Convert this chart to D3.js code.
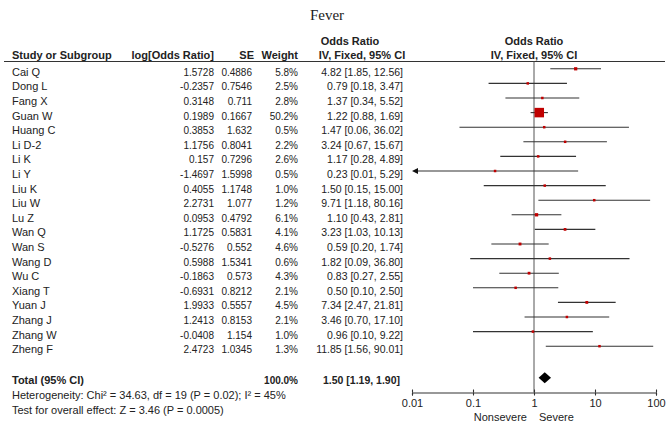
<!DOCTYPE html>
<html>
<head>
<meta charset="utf-8">
<script src="https://cdn.jsdelivr.net/npm/d3@7"></script>
<style>
  body { margin: 0; background: #fff; }
  text { font-family: "Liberation Sans", Arial, sans-serif; font-size: 11px; fill: #222; }
  text.num { font-size: 10px; }
  text.ci { font-size: 10.5px; }
</style>
</head>
<body>
<div id="field"></div>
<script>
'use strict';

let studies = ['Cai Q', 'Dong L', 'Fang X', 'Guan W', 'Huang C', 'Li D-2', 'Li K', 'Li Y', 'Liu K', 'Liu W',
               'Lu Z', 'Wan Q', 'Wan S', 'Wang D', 'Wu C', 'Xiang T', 'Yuan J', 'Zhang J', 'Zhang W', 'Zheng F'];
let logOR = ['1.5728', '-0.2357', '0.3148', '0.1989', '0.3853', '1.1756', '0.157', '-1.4697', '0.4055', '2.2731',
             '0.0953', '1.1725', '-0.5276', '0.5988', '-0.1863', '-0.6931', '1.9933', '1.2413', '-0.0408', '2.4723'];
let se = ['0.4886', '0.7546', '0.711', '0.1667', '1.632', '0.8041', '0.7296', '1.5998', '1.1748', '1.077',
          '0.4792', '0.5831', '0.552', '1.5341', '0.573', '0.8212', '0.5557', '0.8153', '1.154', '1.0345'];
let weight = [5.8, 2.5, 2.8, 50.2, 0.5, 2.2, 2.6, 0.5, 1.0, 1.2, 6.1, 4.1, 4.6, 0.6, 4.3, 2.1, 4.5, 2.1, 1.0, 1.3];
let or = [4.82, 0.79, 1.37, 1.22, 1.47, 3.24, 1.17, 0.23, 1.50, 9.71, 1.10, 3.23, 0.59, 1.82, 0.83, 0.50, 7.34, 3.46, 0.96, 11.85];
let lower = [1.85, 0.18, 0.34, 0.88, 0.06, 0.67, 0.28, 0.01, 0.15, 1.18, 0.43, 1.03, 0.20, 0.09, 0.27, 0.10, 2.47, 0.70, 0.10, 1.56];
let upper = [12.56, 3.47, 5.52, 1.69, 36.02, 15.67, 4.89, 5.29, 15.00, 80.16, 2.81, 10.13, 1.74, 36.80, 2.55, 2.50, 21.81, 17.10, 9.22, 90.01];
let total = { weight: '100.0%', or: 1.50, lower: 1.19, upper: 1.90 };
let axisTicks = [0.01, 0.1, 1, 10, 100];
let heterogeneity = 'Heterogeneity: Chi\u00b2 = 34.63, df = 19 (P = 0.02); I\u00b2 = 45%';
let overall = 'Test for overall effect: Z = 3.46 (P = 0.0005)';

function ForestPlot(setting) {
  let w = setting.w,
      h = setting.h,
      rows = studies.map(function(s, i){
        return { name: s, logOR: logOR[i], se: se[i], weight: weight[i], or: or[i], lo: lower[i], hi: upper[i] };
      }),
      x = d3.scaleLog().domain([0.01, 100]).range([412, 656]),
      y = d3.scalePoint().domain(studies).range([68.8, 68.8 + 14.6 * 19]),
      size = d3.scaleSqrt().domain([0, 50.2]).range([0, 9.5]),
      svg = d3.select('#field').append('svg').attr('width', w).attr('height', h),
      fmt = d3.format('.2f');

  svg.append('text').text('Fever').attr('x', 327).attr('y', 20).attr('text-anchor', 'middle')
    .style('font-family', '"Liberation Serif", "Times New Roman", serif').style('font-size', '15px');

  // headers
  let head = svg.append('g').style('font-weight', 'bold');
  head.append('text').text('Odds Ratio').attr('x', 350).attr('y', 45).attr('text-anchor', 'middle');
  head.append('text').text('Odds Ratio').attr('x', 534).attr('y', 45).attr('text-anchor', 'middle');
  head.append('text').text('Study or Subgroup').attr('x', 12).attr('y', 59);
  head.append('text').text('log[Odds Ratio]').attr('x', 214).attr('y', 59).attr('text-anchor', 'end');
  head.append('text').text('SE').attr('x', 254).attr('y', 59).attr('text-anchor', 'end');
  head.append('text').text('Weight').attr('x', 298).attr('y', 59).attr('text-anchor', 'end');
  head.append('text').text('IV, Fixed, 95% CI').attr('x', 362).attr('y', 59).attr('text-anchor', 'middle');
  head.append('text').text('IV, Fixed, 95% CI').attr('x', 534).attr('y', 59).attr('text-anchor', 'middle');
  svg.append('line').attr('x1', 4).attr('x2', 665).attr('y1', 61.5).attr('y2', 61.5).attr('stroke', '#333');

  // table rows
  let row = svg.selectAll('g.row').data(rows).enter().append('g').attr('class', 'row')
    .attr('transform', function(d){ return 'translate(0,' + (y(d.name) + 7) + ')'; });
  row.append('text').text(function(d){ return d.name; }).attr('x', 12);
  row.append('text').attr('class', 'num').text(function(d){ return d.logOR; }).attr('x', 214).attr('text-anchor', 'end');
  row.append('text').attr('class', 'num').text(function(d){ return d.se; }).attr('x', 252).attr('text-anchor', 'end');
  row.append('text').attr('class', 'num').text(function(d){ return d.weight.toFixed(1) + '%'; }).attr('x', 298).attr('text-anchor', 'end');
  row.append('text').attr('class', 'ci').text(function(d){ return fmt(d.or) + ' [' + fmt(d.lo) + ', ' + fmt(d.hi) + ']'; })
    .attr('x', 403).attr('text-anchor', 'end');

  // null line
  svg.append('line').attr('x1', x(1)).attr('x2', x(1)).attr('y1', 61.5).attr('y2', 392.5).attr('stroke', '#555');

  // CI lines and squares
  svg.selectAll('line.ci').data(rows).enter().append('line').attr('class', 'ci')
    .attr('x1', function(d){ return x(Math.max(d.lo, 0.01)) + (d.lo <= 0.01 ? 3 : 0); })
    .attr('x2', function(d){ return x(Math.min(d.hi, 100)); })
    .attr('y1', function(d){ return y(d.name); }).attr('y2', function(d){ return y(d.name); })
    .attr('stroke', '#333').attr('stroke-width', 1.1);
  svg.selectAll('path.arrow').data(rows.filter(function(d){ return d.lo <= 0.01; })).enter().append('path').attr('class', 'arrow')
    .attr('d', function(d){ let x0 = x(0.01), y0 = y(d.name); return 'M' + x0 + ',' + y0 + 'L' + (x0 + 6) + ',' + (y0 - 3) + 'L' + (x0 + 6) + ',' + (y0 + 3) + 'Z'; })
    .attr('fill', '#111');
  svg.selectAll('rect.box').data(rows).enter().append('rect').attr('class', 'box')
    .attr('x', function(d){ return x(d.or) - Math.max(size(d.weight), 2.5) / 2; })
    .attr('y', function(d){ return y(d.name) - Math.max(size(d.weight), 2.5) / 2; })
    .attr('width', function(d){ return Math.max(size(d.weight), 2.5); })
    .attr('height', function(d){ return Math.max(size(d.weight), 2.5); })
    .attr('fill', '#c00000');

  // total
  let ty = 377.8;
  let tot = svg.append('g').style('font-weight', 'bold');
  tot.append('text').text('Total (95% CI)').attr('x', 12).attr('y', ty + 6);
  tot.append('text').attr('class', 'num').text(total.weight).attr('x', 298).attr('y', ty + 6).attr('text-anchor', 'end');
  tot.append('text').attr('class', 'ci').text(fmt(total.or) + ' [' + fmt(total.lower) + ', ' + fmt(total.upper) + ']')
    .attr('x', 400).attr('y', ty + 6).attr('text-anchor', 'end');
  svg.append('path')
    .attr('d', 'M' + x(total.lower) + ',' + ty + 'L' + x(total.or) + ',' + (ty - 5.5) + 'L' + x(total.upper) + ',' + ty + 'L' + x(total.or) + ',' + (ty + 5.5) + 'Z')
    .attr('fill', '#000');

  svg.append('text').text(heterogeneity).attr('x', 12).attr('y', 399);
  svg.append('text').text(overall).attr('x', 12).attr('y', 414);

  // axis
  let axis = svg.append('g').attr('transform', 'translate(0,392.5)')
    .call(d3.axisBottom(x).tickValues(axisTicks).tickSize(3).tickPadding(4).tickFormat(function(d){ return String(d); }));
  axis.select('.domain').attr('stroke', '#333').attr('stroke-width', 1.1);
  axis.selectAll('.tick line').attr('stroke', '#333').attr('stroke-width', 1.1);
  axis.selectAll('.tick text').style('font-family', '"Liberation Sans", Arial, sans-serif').style('font-size', '11px').attr('fill', '#222');
  axis.selectAll('.tick').append('line').attr('y1', -3).attr('y2', 0).attr('stroke', '#333').attr('stroke-width', 1.1);

  svg.append('text').text('Nonsevere').attr('x', 527).attr('y', 421).attr('text-anchor', 'end');
  svg.append('text').text('Severe').attr('x', 539).attr('y', 421);
}

let forestPlot = new ForestPlot({
  w: 669,
  h: 434
});
</script>
</body>
</html>
